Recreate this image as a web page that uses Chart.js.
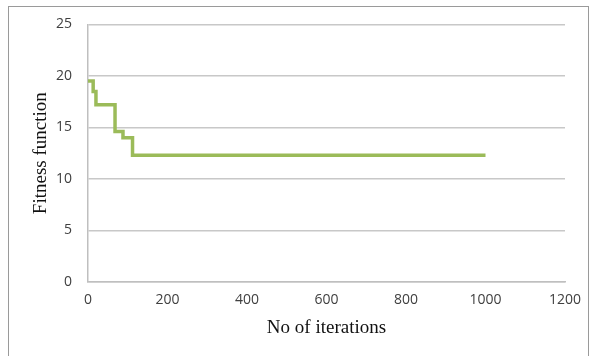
<!DOCTYPE html>
<html>
<head>
<meta charset="utf-8">
<script src="https://cdn.jsdelivr.net/npm/chart.js@4.4.1/dist/chart.umd.min.js"></script>
<style>
  html, body { margin: 0; padding: 0; background: #ffffff; }
  #wrap { position: relative; width: 592px; height: 356px; overflow: hidden; }
  #frame { position: absolute; left: 8px; top: 6px; width: 581px; height: 400px; border: 1px solid #9a9a9a; box-sizing: border-box; }
  #c { position: absolute; left: 0; top: 0; }
</style>
</head>
<body>
<div id="wrap">
  <div id="frame"></div>
  <canvas id="c" width="592" height="356"></canvas>
</div>
<script>
// Data (step changes of the best fitness)
const iterations = [0, 13, 20, 68, 88, 112, 1000];
const fitness    = [19.5, 18.5, 17.2, 14.6, 14.0, 12.3, 12.3];
const xTicks = [0, 200, 400, 600, 800, 1000, 1200];
const yTicks = [0, 5, 10, 15, 20, 25];
const xTitle = 'No of iterations';
const yTitle = 'Fitness function';

const points = iterations.map((x, i) => ({ x: x, y: fitness[i] }));

new Chart(document.getElementById('c'), {
  type: 'line',
  data: {
    datasets: [{
      data: points,
      borderColor: '#9bbb59',
      borderWidth: 3.5,
      pointRadius: 0,
      stepped: 'before',
      fill: false
    }]
  },
  options: {
    responsive: false,
    animation: false,
    devicePixelRatio: 1,
    layout: { padding: { top: 24, right: 27, left: 0, bottom: 0 } },
    plugins: { legend: { display: false }, tooltip: { enabled: false } },
    scales: {
      x: {
        type: 'linear',
        min: xTicks[0], max: xTicks[xTicks.length - 1],
        afterBuildTicks: s => { s.ticks = xTicks.map(v => ({ value: v })); },
        afterFit: s => { s.height = 74; },
        grid: { display: false, drawTicks: false },
        border: { display: true, color: '#bfbfbf', width: 1.5 },
        ticks: { padding: 10, color: '#404040', font: { family: 'Open Sans', size: 14 }, maxRotation: 0, callback: v => String(v) },
        title: { display: true, text: xTitle, color: '#111111', font: { family: 'Liberation Serif', size: 19 }, padding: { top: 0, bottom: 17 } }
      },
      y: {
        type: 'linear',
        min: yTicks[0], max: yTicks[yTicks.length - 1],
        afterBuildTicks: s => { s.ticks = yTicks.map(v => ({ value: v })); },
        afterFit: s => { s.width = 88; },
        grid: { color: '#c8c8c8', lineWidth: 1.5, drawTicks: false },
        border: { display: true, color: '#bfbfbf', width: 1.5 },
        ticks: { padding: 16, color: '#404040', font: { family: 'Open Sans', size: 14 }, callback: v => String(v) },
        title: { display: true, text: yTitle, color: '#111111', font: { family: 'Liberation Serif', size: 19 }, padding: { top: 30, bottom: 0 } }
      }
    }
  }
});
</script>
</body>
</html>
